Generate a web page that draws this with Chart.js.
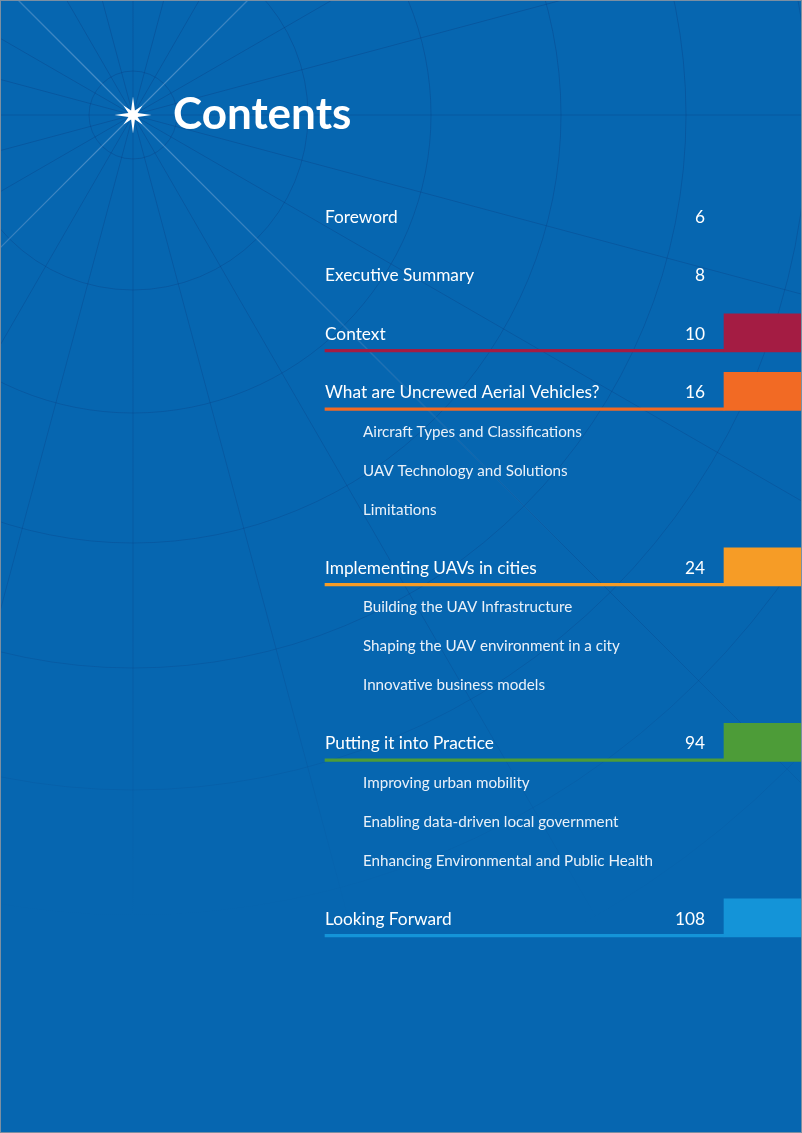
<!DOCTYPE html>
<html>
<head>
<meta charset="utf-8">
<script src="https://cdn.jsdelivr.net/npm/chart.js@4.4.1/dist/chart.umd.min.js"></script>
<style>
  html, body { margin: 0; padding: 0; background: #0666B0; }
  #wrap { position: absolute; left: 0; top: 0; width: 802px; height: 1133px; }
</style>
</head>
<body>
<div id="wrap"><canvas id="toc"></canvas></div>
<script>
// ---------------- DATA ----------------
const pageTitle = 'Contents';
const entryTitles = [
  'Foreword',
  'Executive Summary',
  'Context',
  'What are Uncrewed Aerial Vehicles?',
  'Aircraft Types and Classifications',
  'UAV Technology and Solutions',
  'Limitations',
  'Implementing UAVs in cities',
  'Building the UAV Infrastructure',
  'Shaping the UAV environment in a city',
  'Innovative business models',
  'Putting it into Practice',
  'Improving urban mobility',
  'Enabling data-driven local government',
  'Enhancing Environmental and Public Health',
  'Looking Forward'
];
const entryPages = ['6', '8', '10', '16', '', '', '', '24', '', '', '', '94', '', '', '', '108'];
const entryLevels = [0, 0, 0, 0, 1, 1, 1, 0, 1, 1, 1, 0, 1, 1, 1, 0];
const tabbedSections = [
  'Context',
  'What are Uncrewed Aerial Vehicles?',
  'Implementing UAVs in cities',
  'Putting it into Practice',
  'Looking Forward'
];

// ---------------- STYLE / LAYOUT ----------------
const sectionColours = ['#A41C43', '#F26A24', '#F69C26', '#4D9C38', '#1494D8'];
const BG = '#0666B0';
const PAGE_W = 802, PAGE_H = 1133;
const FIRST_ROW_PX = 216.8, SLOT_PX = 19.5;
const LINE_X0 = 325, SUB_X0 = 363, TAB_X0 = 724, PAGE_NUM_X = 705;
const TAB_H = 38, TAB_DY = -0.05, LINE_H = 2.5, LINE_DY = 0.86;
const GRID_CENTRE = [133, 115];
const GRID_RADII = [44, 175, 298, 428, 553, 675, 800, 925];
const FONT = 'Lato, "Open Sans", sans-serif';

// row slots derived from the list structure (main gap 3 slots, sub-entry gap 2)
const entrySlots = [];
entryLevels.forEach((lv, i) => {
  entrySlots.push(i === 0 ? 0 : entrySlots[i - 1] + (lv === 1 ? 2 : 3));
});
const slotOf = t => entrySlots[entryTitles.indexOf(t)];

const yMin = -FIRST_ROW_PX / SLOT_PX;
const yMax = yMin + PAGE_H / SLOT_PX;

const bgPlugin = {
  id: 'pageBackground',
  beforeDraw(chart) {
    const ctx = chart.ctx, W = chart.width, H = chart.height;
    ctx.save();
    ctx.fillStyle = BG;
    ctx.fillRect(0, 0, W, H);
    const [cx, cy] = GRID_CENTRE;
    const g = ctx.createLinearGradient(0, 0, 0, H);
    g.addColorStop(0, 'rgba(8,52,120,0.30)');
    g.addColorStop(0.55, 'rgba(8,52,120,0.24)');
    g.addColorStop(0.82, 'rgba(8,52,120,0)');
    ctx.strokeStyle = g;
    ctx.lineWidth = 1;
    GRID_RADII.forEach(r => {
      ctx.beginPath(); ctx.arc(cx, cy, r, 0, Math.PI * 2); ctx.stroke();
    });
    for (let a = 0; a < 360; a += 15) {
      const t = a * Math.PI / 180;
      ctx.beginPath(); ctx.moveTo(cx, cy);
      ctx.lineTo(cx + 1600 * Math.cos(t), cy + 1600 * Math.sin(t)); ctx.stroke();
    }
    const g2 = ctx.createRadialGradient(cx, cy, 0, cx, cy, 620);
    g2.addColorStop(0, 'rgba(150,200,240,0.5)');
    g2.addColorStop(0.5, 'rgba(150,200,240,0.25)');
    g2.addColorStop(1, 'rgba(150,200,240,0)');
    ctx.strokeStyle = g2;
    ctx.lineWidth = 1.2;
    [45, 135].forEach(a => {
      const t = a * Math.PI / 180;
      ctx.beginPath();
      ctx.moveTo(cx - 900 * Math.cos(t), cy - 900 * Math.sin(t));
      ctx.lineTo(cx + 900 * Math.cos(t), cy + 900 * Math.sin(t));
      ctx.stroke();
    });
    ctx.restore();
  },
  afterDraw(chart) {
    const ctx = chart.ctx;
    ctx.save();
    ctx.strokeStyle = '#7b8fa2';
    ctx.lineWidth = 1;
    ctx.strokeRect(0.5, 0.5, chart.width - 1, chart.height - 1);
    ctx.restore();
  }
};

const textPlugin = {
  id: 'tocText',
  afterDatasetsDraw(chart) {
    const ctx = chart.ctx;
    const xs = chart.scales.x, ys = chart.scales.y;
    ctx.save();
    // title star
    const [cx, cy] = GRID_CENTRE;
    ctx.fillStyle = '#ffffff';
    ctx.beginPath();
    for (let k = 0; k < 16; k++) {
      const ang = -Math.PI / 2 + k * Math.PI / 8;
      const r = k % 2 === 1 ? 5 : (k % 4 === 0 ? 18.5 : 13.5);
      const px = cx + r * Math.cos(ang), py = cy + r * Math.sin(ang);
      k === 0 ? ctx.moveTo(px, py) : ctx.lineTo(px, py);
    }
    ctx.closePath(); ctx.fill();
    // title
    ctx.font = 'bold 44px ' + FONT;
    ctx.textBaseline = 'alphabetic';
    ctx.textAlign = 'left';
    ctx.fillText(pageTitle, 173, 128.5);
    // entries
    entryTitles.forEach((t, i) => {
      const y = ys.getPixelForValue(entrySlots[i]);
      if (entryLevels[i] === 0) {
        ctx.font = '17.3px ' + FONT;
        ctx.fillStyle = '#ffffff';
        ctx.textAlign = 'left';
        ctx.fillText(t, xs.getPixelForValue(LINE_X0), y + 6);
        if (entryPages[i]) {
          ctx.textAlign = 'right';
          ctx.fillText(entryPages[i], xs.getPixelForValue(PAGE_NUM_X), y + 6);
        }
      } else {
        ctx.font = '15.2px ' + FONT;
        ctx.fillStyle = '#EAF1F9';
        ctx.textAlign = 'left';
        ctx.fillText(t, xs.getPixelForValue(SUB_X0), y + 5.5);
      }
    });
    ctx.restore();
  }
};

const tabData = tabbedSections.map(t => ({ y: slotOf(t) + TAB_DY, x: [TAB_X0, PAGE_W] }));
const lineData = tabbedSections.map(t => ({ y: slotOf(t) + LINE_DY, x: [LINE_X0, TAB_X0] }));

Chart.defaults.font.family = FONT;
new Chart(document.getElementById('toc'), {
  type: 'bar',
  data: {
    datasets: [
      { label: 'tabs', data: tabData, backgroundColor: sectionColours, borderWidth: 0,
        barThickness: TAB_H, grouped: false },
      { label: 'underlines', data: lineData, backgroundColor: sectionColours, borderWidth: 0,
        barThickness: LINE_H, grouped: false }
    ]
  },
  options: {
    indexAxis: 'y',
    responsive: true,
    maintainAspectRatio: false,
    devicePixelRatio: 1,
    animation: false,
    events: [],
    layout: { padding: 0 },
    plugins: { legend: { display: false }, tooltip: { enabled: false }, title: { display: false } },
    scales: {
      x: { type: 'linear', min: 0, max: PAGE_W, display: false, bounds: 'data', offset: false },
      y: { type: 'linear', min: yMin, max: yMax, reverse: true, display: false, bounds: 'data', offset: false }
    }
  },
  plugins: [bgPlugin, textPlugin]
});
</script>
</body>
</html>
